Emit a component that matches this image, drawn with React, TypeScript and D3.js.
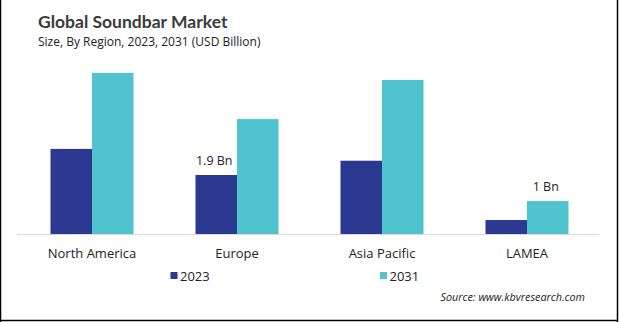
import React, { useEffect } from "react";
import * as d3 from "d3";

const categories = ["North America", "Europe", "Asia Pacific", "LAMEA"];
const seriesNames = ["2023", "2031"];
const values2023 = [2.74, 1.9, 2.36, 0.45];
const values2031 = [5.19, 3.7, 4.96, 1.06];
const labels2023 = ["", "1.9 Bn", "", ""];
const labels2031 = ["", "", "", "1 Bn"];
const colors = ["#2b3990", "#4fc4cf"];

const W = 619;
const H = 322;
const baseY = 234;
const font = "'Open Sans', 'Segoe UI', sans-serif";

export default function App() {
  useEffect(() => {
    document.body.style.margin = "0";
  }, []);

  const x0 = d3.scaleBand<string>().domain(categories).range([19.5, 599.5]).paddingInner(0).paddingOuter(0);
  const x1 = d3.scaleBand<string>().domain(seriesNames).range([0, 83]);
  const y = d3.scaleLinear().domain([0, 1.9]).range([baseY, 175]);

  const series = [values2023, values2031];
  const labels = [labels2023, labels2031];

  return (
    <svg width={W} height={H} style={{ position: "absolute", left: 0, top: 0, background: "#fff" }}>
      <rect x={0} y={0} width={W} height={H} fill="#fff" />
      <text x={38} y={28} fontFamily="Lato, 'Open Sans', sans-serif" fontWeight={700} fontSize={17.5} fill="#3a3a3a">
        Global Soundbar Market
      </text>
      <text x={38} y={46} fontFamily={font} fontSize={12} fill="#222">
        Size, By Region, 2023, 2031 (USD Billion)
      </text>
      <line x1={17} x2={599.5} y1={baseY + 0.5} y2={baseY + 0.5} stroke="#d9d9d9" strokeWidth={1} />
      {categories.map((c, i) => {
        const center = (x0(c) as number) + x0.bandwidth() / 2;
        const start = center - 41.5;
        return (
          <g key={c}>
            {series.map((vals, s) => {
              const bx = start + (x1(seriesNames[s]) as number);
              const by = y(vals[i]);
              return (
                <g key={s}>
                  <rect x={bx} y={by} width={x1.bandwidth()} height={baseY - by} fill={colors[s]} />
                  {labels[s][i] ? (
                    <text
                      x={bx + x1.bandwidth() / 2 - 2}
                      y={by - 10}
                      textAnchor="middle"
                      fontFamily={font}
                      fontSize={12.5}
                      fill="#222"
                    >
                      {labels[s][i]}
                    </text>
                  ) : null}
                </g>
              );
            })}
            <text x={center} y={258} textAnchor="middle" fontFamily={font} fontSize={13} fill="#222">
              {c}
            </text>
          </g>
        );
      })}
      {seriesNames.map((n, s) => {
        const lx = s === 0 ? 170.5 : 380;
        return (
          <g key={n}>
            <rect x={lx} y={272} width={7} height={7} fill={colors[s]} />
            <text x={lx + 9.5} y={281} fontFamily={font} fontSize={13} fill="#222">
              {n}
            </text>
          </g>
        );
      })}
      <text x={585} y={301} textAnchor="end" fontFamily={font} fontStyle="italic" fontSize={10.8} fill="#222">
        Source: www.kbvresearch.com
      </text>
      <line x1={0.5} x2={0.5} y1={0} y2={H} stroke="#000" strokeWidth={1.5} />
      <line x1={617.5} x2={617.5} y1={0} y2={H} stroke="#000" strokeWidth={1.5} />
      <line x1={0} x2={618} y1={320.5} y2={320.5} stroke="#000" strokeWidth={1.5} />
    </svg>
  );
}
